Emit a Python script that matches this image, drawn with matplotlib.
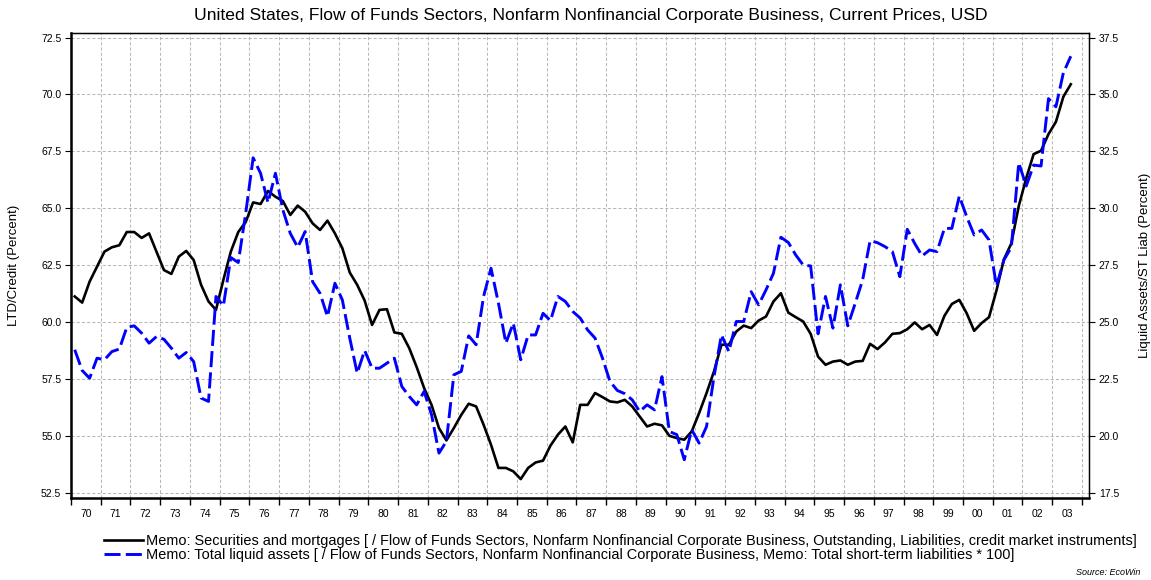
import numpy as np
import pandas as pd
import matplotlib
matplotlib.use("Agg")
import matplotlib.pyplot as plt
from matplotlib.lines import Line2D

plt.rcParams['font.family'] = ['Liberation Sans', 'DejaVu Sans']

# quarterly, 1970Q1 .. 2003Q3
quarters = pd.period_range('1970Q1', '2003Q3', freq='Q')

# LTD / credit (left axis, percent)
ltd_credit = [
    61.13, 60.86, 61.78, 62.44, 63.10, 63.29, 63.38, 63.96, 63.96, 63.70,
    63.90, 63.10, 62.29, 62.12, 62.88, 63.13, 62.73, 61.64, 60.91, 60.54,
    61.86, 63.10, 63.96, 64.40, 65.26, 65.19, 65.76, 65.51, 65.32, 64.71,
    65.12, 64.85, 64.34, 64.05,
    64.46, 63.90, 63.25, 62.18, 61.64, 60.95, 59.88, 60.54, 60.57, 59.55,
    59.49, 58.86, 58.03, 57.11, 56.37, 55.35, 54.81, 55.35, 55.93, 56.42,
    56.30, 55.50, 54.62, 53.60, 53.60, 53.45, 53.11, 53.60, 53.84, 53.92,
    54.58, 55.06, 55.42, 54.72, 56.37,
    56.37, 56.89, 56.71, 56.52, 56.48, 56.59, 56.30, 55.86, 55.42, 55.54,
    55.47, 55.01, 54.91, 54.84, 55.20, 56.01, 56.89, 57.84, 59.01, 59.01,
    59.59, 59.85, 59.74, 60.07, 60.25, 60.91, 61.27, 60.42, 60.22, 60.03,
    59.49, 58.49, 58.13, 58.27,
    58.32, 58.13, 58.27, 58.30, 59.05, 58.82, 59.11, 59.49, 59.52, 59.69,
    59.99, 59.69, 59.88, 59.44, 60.28, 60.80, 60.98, 60.39, 59.62, 59.96,
    60.22, 61.39, 62.76, 63.46, 65.10, 66.32, 67.38, 67.53, 68.26, 68.80,
    69.90, 70.45,
]

# liquid assets / short-term liabilities (right axis, percent)
liquid_st = [
    23.79, 22.88, 22.54, 23.42, 23.35, 23.71, 23.82, 24.77, 24.84, 24.52,
    24.08, 24.37, 24.25, 23.86, 23.42, 23.67, 23.27, 21.67, 21.52, 26.13,
    25.72, 27.84, 27.62, 29.78, 32.22, 31.54, 30.25, 31.54, 29.93, 28.90,
    28.29, 28.98, 26.78, 26.27,
    25.25, 26.71, 25.98, 24.30, 22.76, 23.76, 22.98, 22.98, 23.20, 23.42,
    22.18, 21.74, 21.37, 21.96, 20.94, 19.25, 19.77, 22.69, 22.84, 24.40,
    24.01, 26.13, 27.37, 25.84, 24.08, 24.96, 23.35, 24.44, 24.44, 25.39,
    25.07, 26.13, 25.91, 25.47, 25.18,
    24.66, 24.30, 23.42, 22.40, 22.00, 21.86, 21.59, 21.08, 21.37, 21.15,
    22.61, 20.20, 20.06, 18.96, 20.28, 19.69, 20.42, 22.61, 24.44, 23.71,
    25.03, 25.03, 26.34, 25.76, 26.42, 27.15, 28.73, 28.50, 27.95, 27.51,
    27.47, 24.49, 26.13, 24.74,
    26.64, 24.84, 25.83, 26.86, 28.58, 28.49, 28.32, 28.10, 27.00, 29.08,
    28.46, 27.91, 28.17, 28.10, 29.12, 29.12, 30.54, 29.63, 28.83, 29.05,
    28.61, 26.59, 27.73, 28.29, 32.00, 30.98, 31.90, 31.86, 34.82, 34.46,
    35.95, 36.68,
]

left_ticks = [52.5, 55.0, 57.5, 60.0, 62.5, 65.0, 67.5, 70.0, 72.5]
right_ticks = [17.5, 20.0, 22.5, 25.0, 27.5, 30.0, 32.5, 35.0, 37.5]
year_labels = ['70', '71', '72', '73', '74', '75', '76', '77', '78', '79',
               '80', '81', '82', '83', '84', '85', '86', '87', '88', '89',
               '90', '91', '92', '93', '94', '95', '96', '97', '98', '99',
               '00', '01', '02', '03']

title = ('United States, Flow of Funds Sectors, Nonfarm Nonfinancial '
         'Corporate Business, Current Prices, USD')
label_1 = ('Memo: Securities and mortgages [ / Flow of Funds Sectors, Nonfarm '
           'Nonfinancial Corporate Business, Outstanding, Liabilities, credit '
           'market instruments]')
label_2 = ('Memo: Total liquid assets [ / Flow of Funds Sectors, Nonfarm '
           'Nonfinancial Corporate Business, Memo: Total short-term liabilities * 100]')

x = quarters.year + (quarters.quarter - 0.5) / 4.0

fig = plt.figure(figsize=(11.51, 5.80), dpi=100)
ax = fig.add_axes([0.0617, 0.1414, 0.8845, 0.8017])
ax2 = ax.twinx()

ax.plot(x, ltd_credit, color='black', lw=1.9, solid_joinstyle='round', zorder=3)
ax2.plot(x, liquid_st, color='#0000ff', lw=2.1, dashes=(5.5, 1.8), zorder=4)

ax.set_xlim(1970, 2004.24)
ax.set_ylim(52.28, 72.70)
ax2.set_ylim(52.28 - 35, 72.70 - 35)

# year boundary ticks + centered labels
years = np.arange(1970, 2005)
ax.set_xticks(years)
ax.set_xticklabels([])
ax.set_xticks(np.arange(1970, 2004) + 0.5, minor=True)
ax.set_xticklabels(year_labels, minor=True)
ax.tick_params(axis='x', which='major', length=5, width=1, direction='out')
ax.tick_params(axis='x', which='minor', length=0, pad=8, labelsize=7.5)

ax.set_yticks(left_ticks)
ax.set_yticklabels(['%.1f' % v for v in left_ticks])
ax2.set_yticks(right_ticks)
ax2.set_yticklabels(['%.1f' % v for v in right_ticks])
ax.tick_params(axis='y', length=4, labelsize=7.5, pad=3)
ax2.tick_params(axis='y', length=4, labelsize=7.5, pad=3)

ax.grid(True, which='major', color='#b8b8b8', ls=(0, (3, 2)), lw=0.75)
ax.set_axisbelow(True)

for s in ['left', 'bottom']:
    ax.spines[s].set_linewidth(1.8)
ax.spines['top'].set_linewidth(1.0)
ax2.spines['right'].set_linewidth(1.0)

ax.set_ylabel('LTD/Credit (Percent)', fontsize=9.5, labelpad=15)
ax2.set_ylabel('Liquid Assets/ST Liab (Percent)', fontsize=9.5, labelpad=14)

fig.text(0.513, 0.973, title, ha='center', va='center', fontsize=12.6)

handles = [Line2D([], [], color='black', lw=1.9),
           Line2D([], [], color='#0000ff', lw=2.1, dashes=(5.5, 1.8))]
fig.legend(handles, [label_1, label_2], loc='upper left',
           bbox_to_anchor=(0.085, 0.09), bbox_transform=fig.transFigure,
           frameon=False, fontsize=10.45, handlelength=2.7, handletextpad=0.25,
           labelspacing=0.05, borderaxespad=0)

fig.text(0.991, 0.005, 'Source: EcoWin', ha='right', va='bottom',
         fontsize=6.5, style='italic')

fig.savefig('out.png', dpi=100)
